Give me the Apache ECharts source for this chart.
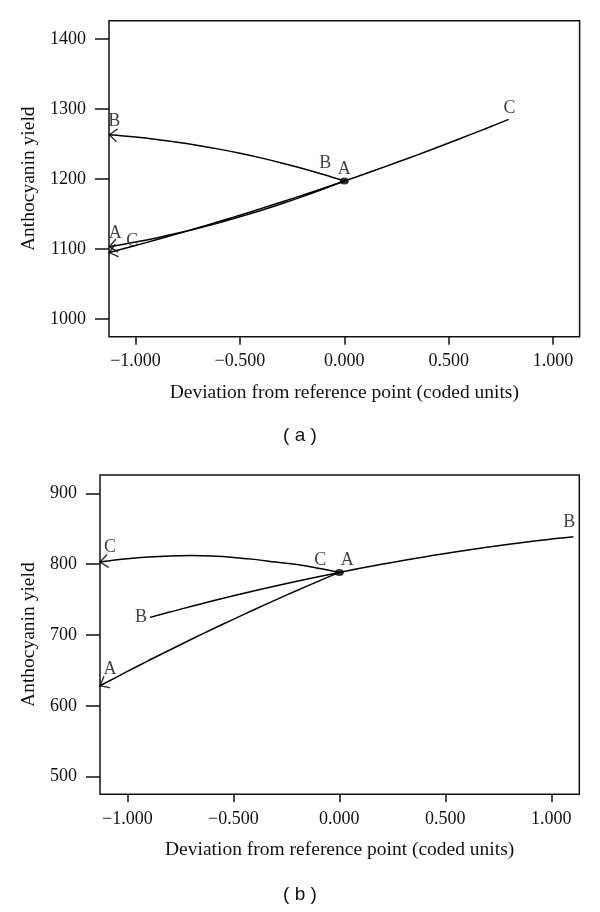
<!DOCTYPE html>
<html><head><meta charset="utf-8">
<script src="https://cdn.jsdelivr.net/npm/echarts@6/dist/echarts.min.js"></script>
<style>html,body{margin:0;padding:0;background:#fff}#c{width:600px;height:912px}</style>
</head><body><div id="c"></div>
<script>
// ---- tick values ----
const xTicks = [-1, -0.5, 0, 0.5, 1];
const yTicksA = [1000, 1100, 1200, 1300, 1400];
const yTicksB = [500, 600, 700, 800, 900];

// ---- panel (a) traces ----
const refA = [0, 1197];
const aA_x = [-1.126, -1.0, -0.9, -0.8, -0.7, -0.6, -0.5, -0.4, -0.3, -0.2, -0.1, 0];
const aA_y = [1103.1, 1109.8, 1115.8, 1122.5, 1129.7, 1137.5, 1146.0, 1155.0, 1164.6, 1174.8, 1185.6, 1197];
const aB_x = [-1.126, -1.0, -0.9, -0.8, -0.7, -0.6, -0.5, -0.4, -0.3, -0.2, -0.1, 0];
const aB_y = [1263.0, 1259.8, 1256.5, 1252.5, 1247.9, 1242.6, 1236.7, 1230.1, 1222.8, 1214.9, 1206.3, 1197];
const aC_x = [-1.126, -1.0, -0.9, -0.8, -0.7, -0.6, -0.5, -0.4, -0.3, -0.2, -0.1, 0, 0.1, 0.2, 0.3, 0.4, 0.5, 0.6, 0.7, 0.787];
const aC_y = [1095.0, 1105.0, 1113.2, 1121.6, 1130.2, 1139.1, 1148.2, 1157.6, 1167.1, 1176.8, 1186.8, 1197, 1207.4, 1218.0, 1228.9, 1240.0, 1251.4, 1262.9, 1274.6, 1285.0];

// ---- panel (b) traces ----
const refB = [0, 788.3];
const bA_x = [-1.129, -1.0, -0.9, -0.8, -0.7, -0.6, -0.5, -0.4, -0.3, -0.2, -0.1, 0];
const bA_y = [628.3, 648.5, 663.9, 678.8, 693.6, 708.1, 722.1, 736.0, 749.5, 762.8, 775.7, 788.3];
const bB_x = [-0.893, -0.8, -0.6, -0.4, -0.2, 0, 0.2, 0.4, 0.6, 0.8, 1.0, 1.104];
const bB_y = [724.8, 732.3, 747.9, 762.4, 775.9, 788.3, 799.7, 810.2, 819.5, 827.9, 835.3, 838.7];
const bC_x = [-1.129, -1.0, -0.9, -0.8, -0.7, -0.6, -0.5, -0.4, -0.3, -0.2, -0.1, 0];
const bC_y = [803, 807.5, 810, 811.5, 812, 811.3, 809.5, 806.7, 803, 799.5, 794.3, 788.3];

const zip = (xs, ys) => xs.map((x, i) => [x, ys[i]]);
const last = a => a[a.length - 1];

const SERIF = '"Liberation Serif", "DejaVu Serif", serif';
const ARROW = 'path://M8,0 L0,6.5 L8,13';

function xAxis(gi, min, max) {
  return {
    type: 'value', gridIndex: gi, min: min, max: max,
    name: 'Deviation from reference point (coded units)',
    nameLocation: 'middle', nameGap: 46,
    nameTextStyle: { fontFamily: SERIF, fontSize: 19.5, color: '#111' },
    axisLine: { show: false, onZero: false },
    axisTick: { show: true, length: 8, lineStyle: { color: '#111', width: 1.5 }, customValues: xTicks },
    axisLabel: { fontFamily: SERIF, fontSize: 18, color: '#111', margin: 16, customValues: xTicks,
      formatter: v => (v < 0 ? '\u2212' : '') + Math.abs(v).toFixed(3) },
    splitLine: { show: false }
  };
}
function yAxis(gi, min, max, ticks, gap) {
  return {
    type: 'value', gridIndex: gi, min: min, max: max,
    name: 'Anthocyanin yield', nameLocation: 'middle', nameGap: gap,
    nameTextStyle: { fontFamily: SERIF, fontSize: 19.5, color: '#111' },
    axisLine: { show: false, onZero: false },
    axisTick: { show: true, length: 14, lineStyle: { color: '#111', width: 1.5 }, customValues: ticks },
    axisLabel: { fontFamily: SERIF, fontSize: 18, color: '#111', margin: 23, customValues: ticks,
      formatter: v => String(Math.round(v)) },
    splitLine: { show: false }
  };
}
function curve(gi, xs, ys) {
  return {
    type: 'line', xAxisIndex: gi, yAxisIndex: gi, data: zip(xs, ys),
    smooth: 0.4, symbol: 'none', clip: false,
    lineStyle: { color: '#000', width: 1.5 }, z: 3
  };
}
function arrows(gi, items) {
  return {
    type: 'scatter', xAxisIndex: gi, yAxisIndex: gi, clip: false, z: 4,
    symbol: ARROW, symbolSize: [8, 13],
    itemStyle: { color: 'transparent', borderColor: '#000', borderWidth: 1.3 },
    data: items.map(it => ({
      value: it.p,
      symbolRotate: it.r,
      symbolOffset: [4 * Math.cos(it.r * Math.PI / 180), -4 * Math.sin(it.r * Math.PI / 180)]
    })),
    silent: true
  };
}
function labels(gi, items) {
  return {
    type: 'scatter', xAxisIndex: gi, yAxisIndex: gi, clip: false, z: 5,
    symbol: 'circle', symbolSize: 1, itemStyle: { color: 'transparent' },
    label: { show: true, position: 'inside', fontFamily: SERIF, fontSize: 18, color: '#111' },
    data: items.map(it => ({ value: it.p, label: { formatter: it.t, offset: it.o } })),
    silent: true
  };
}
function dot(gi, p) {
  return {
    type: 'scatter', xAxisIndex: gi, yAxisIndex: gi, z: 6, clip: false,
    symbol: 'circle', symbolSize: [9, 7], itemStyle: { color: '#000' }, data: [p], silent: true
  };
}

const option = {
  animation: false,
  backgroundColor: '#fff',
  grid: [
    { left: 109, top: 20.7, width: 470.6, height: 316, show: true, borderColor: '#111', borderWidth: 1.5, backgroundColor: 'transparent' },
    { left: 100, top: 475, width: 479.3, height: 319.3, show: true, borderColor: '#111', borderWidth: 1.5, backgroundColor: 'transparent' }
  ],
  xAxis: [xAxis(0, -1.127, 1.127), xAxis(1, -1.129, 1.132)],
  yAxis: [yAxis(0, 974.7, 1426, yTicksA, 62), yAxis(1, 475.1, 925.8, yTicksB, 55)],
  graphic: [
    { type: 'text', left: 'center', top: 426, style: { text: '( a )', fontFamily: '"Liberation Sans", Arial, sans-serif', fontSize: 19, fill: '#111' } },
    { type: 'text', left: 'center', top: 885, style: { text: '( b )', fontFamily: '"Liberation Sans", Arial, sans-serif', fontSize: 19, fill: '#111' } }
  ],
  series: [
    curve(0, aA_x, aA_y), curve(0, aB_x, aB_y), curve(0, aC_x, aC_y),
    arrows(0, [
      { p: [aB_x[0], aB_y[0]], r: -4 },
      { p: [aA_x[0], aA_y[0]], r: 9.5 },
      { p: [aC_x[0], aC_y[0]], r: 14.7 }
    ]),
    labels(0, [
      { p: [aB_x[0], aB_y[0]], t: 'B', o: [5, -14] },
      { p: [last(aB_x), last(aB_y)], t: 'B', o: [-19, -18] },
      { p: refA, t: 'A', o: [0, -12] },
      { p: [last(aC_x), last(aC_y)], t: 'C', o: [1, -11] },
      { p: [aA_x[0], aA_y[0]], t: 'A', o: [6, -14] },
      { p: [aC_x[0], aC_y[0]], t: 'C', o: [23, -11] }
    ]),
    dot(0, refA),

    curve(1, bA_x, bA_y), curve(1, bB_x, bB_y), curve(1, bC_x, bC_y),
    arrows(1, [
      { p: [bC_x[0], bC_y[0]], r: 7.4 },
      { p: [bA_x[0], bA_y[0]], r: 28 }
    ]),
    labels(1, [
      { p: [bC_x[0], bC_y[0]], t: 'C', o: [10, -15] },
      { p: [last(bC_x), last(bC_y)], t: 'C', o: [-19, -12] },
      { p: refB, t: 'A', o: [8, -12] },
      { p: [bB_x[0], bB_y[0]], t: 'B', o: [-9, 0] },
      { p: [last(bB_x), last(bB_y)], t: 'B', o: [-4, -14] },
      { p: [bA_x[0], bA_y[0]], t: 'A', o: [10, -16] }
    ]),
    dot(1, refB)
  ]
};
const chart = echarts.init(document.getElementById('c'), null, { renderer: 'canvas' });
chart.setOption(option);
</script>
</body></html>
